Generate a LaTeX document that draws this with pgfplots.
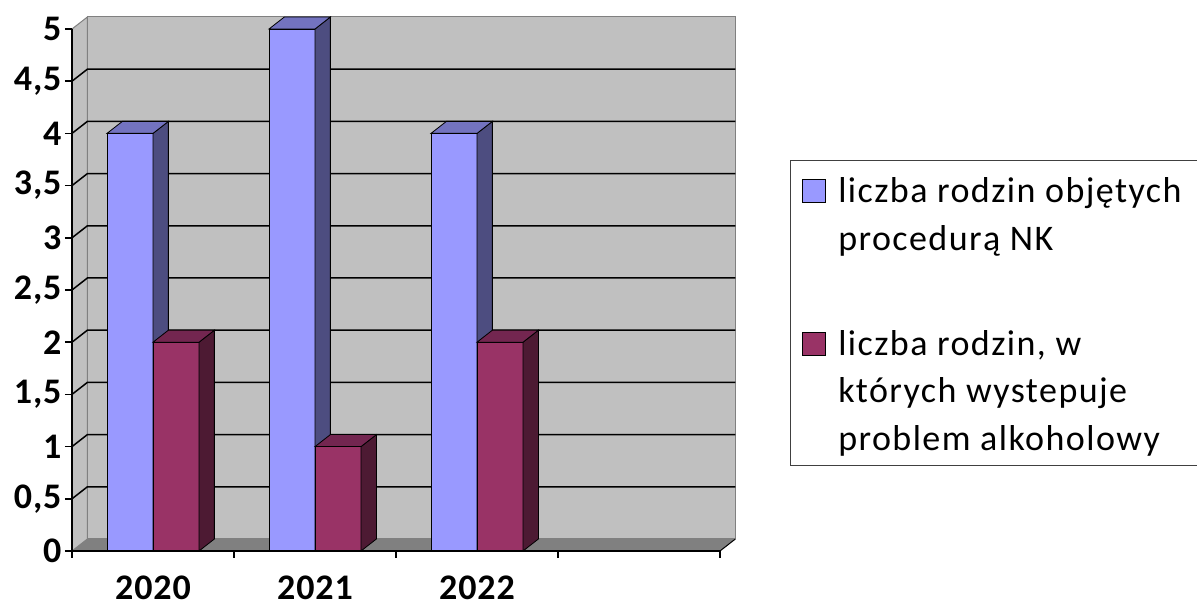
\documentclass[border=0pt]{standalone}
\usepackage{fontspec}
\setmainfont{Carlito}
\usepackage{pgfplots}
\pgfplotsset{compat=1.18}
\definecolor{barblue}{HTML}{9999FF}
\definecolor{barblueside}{HTML}{4D4D80}
\definecolor{barbluetop}{HTML}{7373BF}
\definecolor{barred}{HTML}{993366}
\definecolor{barredside}{HTML}{4D1A33}
\definecolor{barredtop}{HTML}{732650}
\definecolor{wallgray}{HTML}{C0C0C0}
\definecolor{floorgray}{HTML}{808080}
\tikzset{lgt/.style={anchor=base west, inner xsep=12pt, inner ysep=0pt, text height=37pt, text depth=10.5pt}}
\begin{document}
\begin{tikzpicture}
\path[use as bounding box] (0,0) rectangle (1197pt,607pt);
\begin{axis}[
  at={(72pt,56pt)}, anchor=south west,
  scale only axis, width=648pt, height=522pt,
  xmin=-0.5, xmax=3.5, ymin=0, ymax=5,
  clip=false, axis on top,
  axis x line*=bottom, axis y line*=left,
  axis line style={line width=1.5pt, black},
  tick align=outside, major tick length=7pt,
  tick style={line width=1.5pt, black},
  /pgf/number format/assume math mode=true,
  ytick={0,0.5,1,1.5,2,2.5,3,3.5,4,4.5,5},
  yticklabel style={font=\fontsize{36}{36}\selectfont\bfseries\addfontfeatures{LetterSpace=2.5},
    /pgf/number format/.cd, fixed, use comma, precision=1},
  xtick={-0.5,0.5,1.5,2.5,3.5},
  xticklabels={2020,2021,2022,{},{}},
  xticklabel style={font=\fontsize{36}{36}\selectfont\bfseries\addfontfeatures{LetterSpace=2.5}, xshift=81pt, yshift=-14pt},
  legend style={at={(1.108,0.749)}, anchor=north west, draw=black!75, line width=1pt,
    fill=white, inner xsep=12pt, inner ysep=5pt, row sep=0pt, column sep=0pt,
    font=\fontsize{36}{47.5}\selectfont\addfontfeatures{LetterSpace=4},
    nodes={lgt}},
]
% walls and floor
\addplot[forget plot, fill=wallgray, draw=floorgray, line width=1pt] coordinates {(-0.5,0) (-0.405,0.115) (-0.405,5.115) (-0.5,5)} -- cycle;
\addplot[forget plot, fill=wallgray, draw=floorgray, line width=1pt] coordinates {(-0.405,0.115) (3.595,0.115) (3.595,5.115) (-0.405,5.115)} -- cycle;
\addplot[forget plot, fill=floorgray, draw=none] coordinates {(-0.5,0) (3.5,0) (3.595,0.115) (-0.405,0.115)} -- cycle;
\addplot[forget plot, black, line width=1pt] coordinates {(3.5,0) (3.595,0.115)};
% gridlines
\addplot[forget plot, black, line width=1.5pt, unbounded coords=jump] coordinates {
 (-0.5,0.5) (-0.405,0.615) (3.595,0.615) (nan,nan)
 (-0.5,1.0) (-0.405,1.115) (3.595,1.115) (nan,nan)
 (-0.5,1.5) (-0.405,1.615) (3.595,1.615) (nan,nan)
 (-0.5,2.0) (-0.405,2.115) (3.595,2.115) (nan,nan)
 (-0.5,2.5) (-0.405,2.615) (3.595,2.615) (nan,nan)
 (-0.5,3.0) (-0.405,3.115) (3.595,3.115) (nan,nan)
 (-0.5,3.5) (-0.405,3.615) (3.595,3.615) (nan,nan)
 (-0.5,4.0) (-0.405,4.115) (3.595,4.115) (nan,nan)
 (-0.5,4.5) (-0.405,4.615) (3.595,4.615)
};
% blue series: front faces
\addplot[ybar, bar width=46pt, bar shift=-23pt, fill=barblue, draw=black, line width=0.8pt,
  legend image code/.code={\draw[fill=barblue, draw=black, line width=0.8pt] (0pt,0pt) rectangle (23pt,23pt);}]
  coordinates {(0,4) (1,5) (2,4)};
\addlegendentry[lgt]{liczba rodzin objętych\hspace{40pt}}
\addlegendimage{empty legend}
\addlegendentry[lgt]{procedurą NK}
\addlegendimage{empty legend}
\addlegendentry[lgt, text height=47pt]{}
% blue sides
\addplot[forget plot, fill=barblueside, draw=black, line width=0.8pt] coordinates {(0,0) (0.095,0.115) (0.095,4.115) (0,4)} -- cycle;
\addplot[forget plot, fill=barblueside, draw=black, line width=0.8pt] coordinates {(1,0) (1.095,0.115) (1.095,5.115) (1,5)} -- cycle;
\addplot[forget plot, fill=barblueside, draw=black, line width=0.8pt] coordinates {(2,0) (2.095,0.115) (2.095,4.115) (2,4)} -- cycle;
% blue tops
\addplot[forget plot, fill=barbluetop, draw=black, line width=0.8pt] coordinates {(-0.284,4) (-0.189,4.115) (0.095,4.115) (0,4)} -- cycle;
\addplot[forget plot, fill=barbluetop, draw=black, line width=0.8pt] coordinates {(0.716,5) (0.811,5.115) (1.095,5.115) (1,5)} -- cycle;
\addplot[forget plot, fill=barbluetop, draw=black, line width=0.8pt] coordinates {(1.716,4) (1.811,4.115) (2.095,4.115) (2,4)} -- cycle;
% red series: front faces
\addplot[ybar, bar width=46pt, bar shift=23pt, fill=barred, draw=black, line width=0.8pt,
  legend image code/.code={\draw[fill=barred, draw=black, line width=0.8pt] (0pt,0pt) rectangle (23pt,23pt);}]
  coordinates {(0,2) (1,1) (2,2)};
\addlegendentry[lgt]{liczba rodzin, w}
\addlegendimage{empty legend}
\addlegendentry[lgt]{których wystepuje}
\addlegendimage{empty legend}
\addlegendentry[lgt]{problem alkoholowy}
% red sides
\addplot[forget plot, fill=barredside, draw=black, line width=0.8pt] coordinates {(0.284,0) (0.379,0.115) (0.379,2.115) (0.284,2)} -- cycle;
\addplot[forget plot, fill=barredside, draw=black, line width=0.8pt] coordinates {(1.284,0) (1.379,0.115) (1.379,1.115) (1.284,1)} -- cycle;
\addplot[forget plot, fill=barredside, draw=black, line width=0.8pt] coordinates {(2.284,0) (2.379,0.115) (2.379,2.115) (2.284,2)} -- cycle;
% red tops
\addplot[forget plot, fill=barredtop, draw=black, line width=0.8pt] coordinates {(0,2) (0.095,2.115) (0.379,2.115) (0.284,2)} -- cycle;
\addplot[forget plot, fill=barredtop, draw=black, line width=0.8pt] coordinates {(1,1) (1.095,1.115) (1.379,1.115) (1.284,1)} -- cycle;
\addplot[forget plot, fill=barredtop, draw=black, line width=0.8pt] coordinates {(2,2) (2.095,2.115) (2.379,2.115) (2.284,2)} -- cycle;
\end{axis}
\end{tikzpicture}
\end{document}
